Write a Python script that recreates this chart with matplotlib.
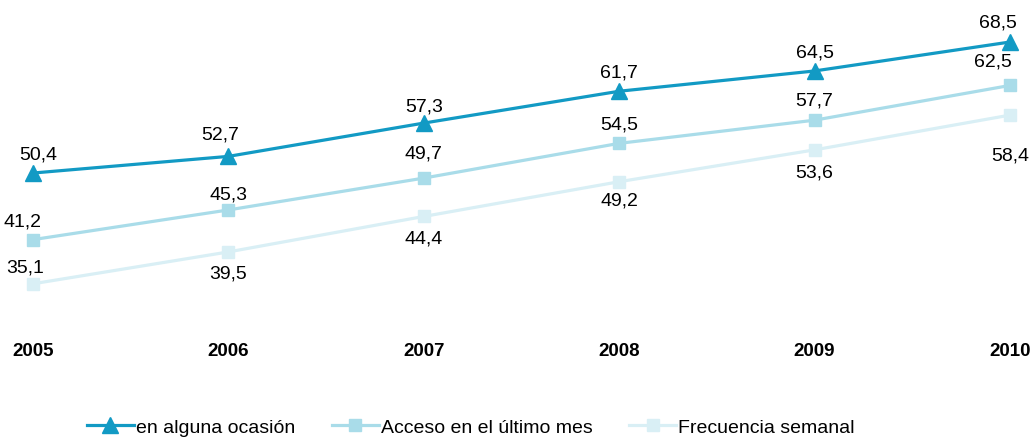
import matplotlib.pyplot as plt

years = [2005, 2006, 2007, 2008, 2009, 2010]
alguna = [50.4, 52.7, 57.3, 61.7, 64.5, 68.5]
mes = [41.2, 45.3, 49.7, 54.5, 57.7, 62.5]
semanal = [35.1, 39.5, 44.4, 49.2, 53.6, 58.4]

labels = ['en alguna ocasión', 'Acceso en el último mes', 'Frecuencia semanal']
colors = ['#129AC4', '#A9DCE9', '#D9EFF5']
markers = ['^', 's', 's']

# label offsets (pixels) for each point
off_alguna = [(5, 19), (-8, 22), (0, 17), (0, 19), (0, 19), (-12, 20)]
off_mes = [(-10, 19), (0, 16), (0, 25), (0, 19), (0, 20), (-17, 24)]
off_semanal = [(-8, 17), (0, -21), (0, -22), (0, -18), (0, -22), (0, -40)]

plt.rcParams['font.family'] = ['Liberation Sans', 'DejaVu Sans']

fig = plt.figure(figsize=(10.3, 4.39), dpi=100)
ax = fig.add_axes([0.0320, 0.2672, 0.9485, 0.7255])

series = [alguna, mes, semanal]
offsets = [off_alguna, off_mes, off_semanal]
for vals, lab, c, m, offs in zip(series, labels, colors, markers, offsets):
    ax.plot(years, vals, color=c, linewidth=2.3, marker=m, markersize=11 if m == '^' else 9,
            label=lab, clip_on=False)
    for x, v, (dx, dy) in zip(years, vals, offs):
        ax.annotate(f'{v:.1f}'.replace('.', ','), (x, v), xytext=(dx, dy),
                    textcoords='offset pixels', ha='center', va='center',
                    fontsize=14, color='black')

ax.set_xlim(2005, 2010)
ax.set_ylim(30, 74)
ax.set_xticks(years)
ax.set_xticklabels([str(y) for y in years], fontweight='bold', fontsize=13.5)
ax.set_yticks([])
ax.tick_params(axis='x', length=0, pad=15)
for s in ax.spines.values():
    s.set_visible(False)

fig.legend(loc='lower center', bbox_to_anchor=(0.457, -0.036), ncol=3, frameon=False,
           fontsize=14, handlelength=2.4, columnspacing=1.9, handletextpad=0.1)

fig.savefig('out.png', dpi=100)
